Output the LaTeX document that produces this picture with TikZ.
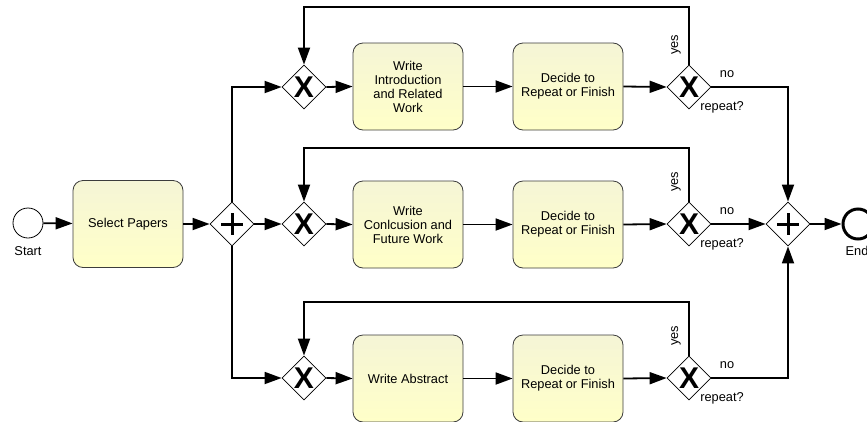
\documentclass[tikz,border=0pt]{standalone}
\usepackage{fontspec}
\setmainfont{Liberation Sans}
\usetikzlibrary{arrows.meta,shapes.geometric,calc}

\definecolor{taskTop}{RGB}{245,245,214}
\definecolor{taskBot}{RGB}{255,255,200}
\definecolor{taskLine}{RGB}{60,60,60}

\begin{document}
\begin{tikzpicture}[x=1pt,y=-1pt,
  txt/.style={font=\fontsize{12.8}{14}\selectfont},
  task/.style={txt, draw=taskLine, line width=0.8pt, rounded corners=10pt,
    minimum width=110pt, minimum height=87pt, inner sep=2pt, align=center,
    top color=taskTop, bottom color=taskBot},
  gw/.style={diamond, draw, fill=white, line width=0.8pt, inner sep=0pt,
    minimum width=44pt, minimum height=44pt},
  xgw/.style={gw, font=\fontsize{30}{30}\selectfont\bfseries},
  event/.style={circle, draw, fill=white, minimum size=30pt, inner sep=0pt},
  flow/.style={line width=1.8pt, -{Triangle[length=17pt,width=12pt]}},
  yeslbl/.style={txt, rotate=90},
]
\path[use as bounding box, clip] (0,0) rectangle (867,421);

% events and first task
\node[event, line width=0.8pt] (start) at (28,223) {};
\node[txt] (startlbl) at (28,251) {Start};
\node[task] (sel) at (128,224) {Select Papers};

% parallel split and join
\node[gw] (pl) at (232,224) {};
\node[gw] (pr) at (788,224) {};
\foreach \g in {pl,pr}{
  \draw[line width=3pt] ($(\g)+(-11,0)$) -- ($(\g)+(11,0)$);
  \draw[line width=3pt] ($(\g)+(0,-11)$) -- ($(\g)+(0,11)$);
}
\node[event, line width=3pt] (end) at (858,224) {};
\node[txt] (endlbl) at (857,251) {End};

% loop levels
\coordinate (loopA) at (0,7);
\coordinate (loopB) at (0,148);
\coordinate (loopC) at (0,302);

% three branches
\node[xgw] (xl1) at (304,87) {X};
\node[task] (w1) at (408,86.5) {Write\\Introduction\\and Related\\Work};
\node[task] (d1) at (568,86.5) {Decide to\\Repeat or Finish};
\node[xgw] (xr1) at (689,87) {X};

\node[xgw] (xl2) at (304,224) {X};
\node[task] (w2) at (408,224.5) {Write\\Conlcusion and\\Future Work};
\node[task] (d2) at (568,224.5) {Decide to\\Repeat or Finish};
\node[xgw] (xr2) at (689,224) {X};

\node[xgw] (xl3) at (304,378) {X};
\node[task] (w3) at (408,378.5) {Write Abstract};
\node[task] (d3) at (568,378.5) {Decide to\\Repeat or Finish};
\node[xgw] (xr3) at (689,378) {X};

% flows
\draw[flow] (start) -- (sel);
\draw[flow] (sel) -- (pl);
\draw[flow] (pl.north) |- (xl1.west);
\draw[flow] (pl.east) -- (xl2.west);
\draw[flow] (pl.south) |- (xl3.west);

\foreach \i in {1,2,3}{
  \draw[flow] (xl\i.east) -- (w\i.west);
  \draw[flow] (w\i.east) -- (d\i.west);
  \draw[flow] (d\i.east) -- (xr\i.west);
}

\draw[flow] (xr1.north) -- (xr1.north |- loopA) -| (xl1.north);
\draw[flow] (xr2.north) -- (xr2.north |- loopB) -| (xl2.north);
\draw[flow] (xr3.north) -- (xr3.north |- loopC) -| (xl3.north);

\draw[flow] (xr1.east) -| (pr.north);
\draw[flow] (xr2.east) -- (pr.west);
\draw[flow] (xr3.east) -| (pr.south);
\draw[flow] (pr.east) -- (end.west);

% gateway labels
\foreach \i in {1,2,3}{
  \node[yeslbl] (yes\i) at ($(xr\i)+(-13,-42)$) {yes};
  \node[txt] (no\i) at ($(xr\i)+(38,-13)$) {no};
  \node[txt] (rep\i) at ($(xr\i)+(33,20)$) {repeat?};
}
\end{tikzpicture}
\end{document}
